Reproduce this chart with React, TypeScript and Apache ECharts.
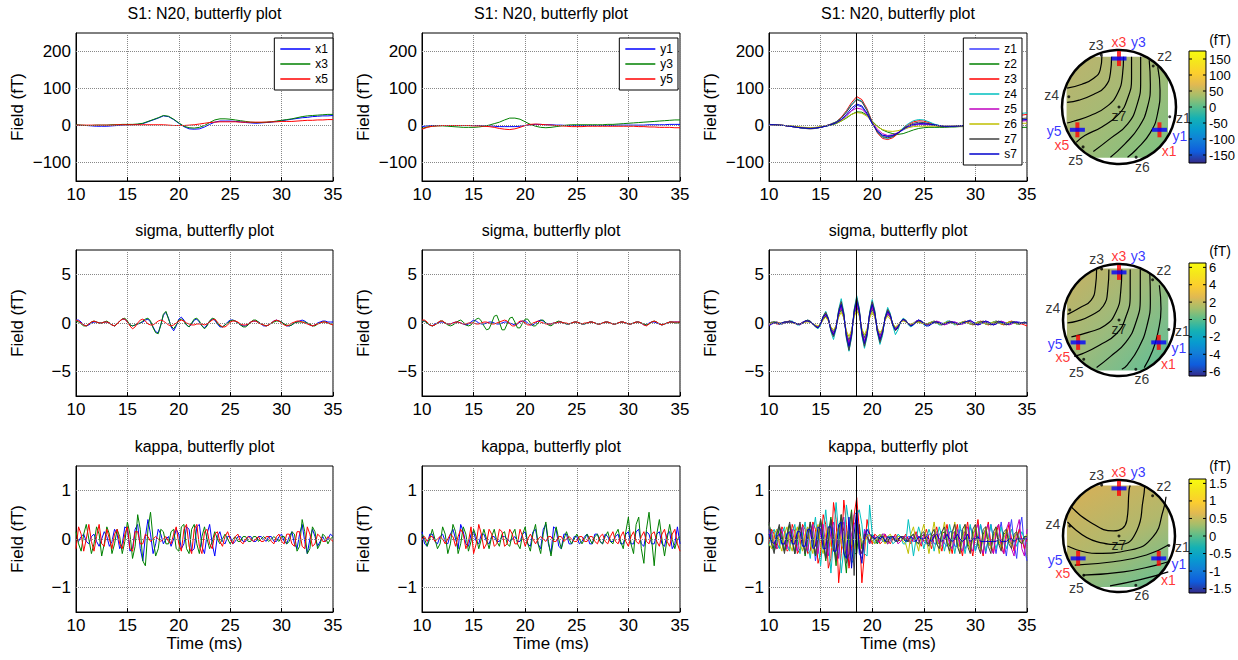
import React, { useEffect, useRef } from "react";
import * as echarts from "echarts";

const FONT = '"Liberation Sans", Arial, Helvetica, sans-serif';
const T0 = 10;
const STEP_TOP = 0.5;
const STEP_OSC = 0.25;
const MARK_T = 18.5;
const MAP_RANGE = 1.3;

const namesX = ["x1", "x3", "x5"];
const namesY = ["y1", "y3", "y5"];
const namesZ = ["z1", "z2", "z3", "z4", "z5", "z6", "z7", "s7"];
const colXY = ["#0000ff", "#008000", "#ff0000"];
const colZ = ["#3a3aff", "#008000", "#ff0000", "#00bfbf", "#bf00bf", "#bfbf00", "#404040", "#0000cc"];

const rowTitles = ["S1: N20, butterfly plot", "sigma, butterfly plot", "kappa, butterfly plot"];
const yTickTop = [-100, 0, 100, 200];
const yTickSigma = [-5, 0, 5];
const yTickKappa = [-1, 0, 1];

// ---------- Row 1 (step 0.5 ms) ----------
const topX1 = [1,0,0,-1,-2,-2,-2,-1,0,1, 2,2,3,5,10,15,20,26,24,16, 6,-3,-9,-10,-9,-4,3,9,12,12, 12,11,10,8,7,6,7,8,9,11, 13,15,17,19,21,22,24,25,26,26, 27];
const topX3 = [2,1,0,0,1,1,1,2,2,3, 3,3,4,6,11,16,21,27,25,17, 7,-2,-6,-7,-5,0,8,15,18,18, 17,15,13,11,9,8,8,9,10,12, 14,16,18,21,24,26,27,28,29,30, 30];
const topX5 = [1,1,1,1,1,1,1,1,2,2, 2,2,2,2,2,2,2,2,1,0, 0,0,1,2,4,6,8,9,10,10, 10,10,9,9,9,9,9,9,10,10, 11,11,11,12,13,14,14,15,15,16, 16];
const topY1 = [-3,-1,0,0,0,0,0,0,0,0, 0,0,-1,-1,-2,-3,-3,-3,-3,-2, 0,2,3,3,2,2,1,1,0,0, 0,0,0,0,0,0,0,0,1,1, 1,1,1,1,2,2,2,2,3,3, 3];
const topY3 = [-8,-4,-2,-1,-1,-2,-3,-4,-5,-5, -5,-4,-2,1,5,9,15,20,20,17, 10,3,-2,-5,-6,-5,-3,-1,1,2, 2,2,2,2,2,2,3,3,4,5, 6,7,8,9,10,11,12,13,14,15, 15];
const topY5 = [-10,-5,-2,-1,0,0,0,0,0,0, -1,-1,-2,-3,-5,-8,-10,-11,-9,-5, 0,3,4,3,2,1,0,-1,-2,-3, -3,-3,-2,-2,-2,-2,-2,-2,-2,-2, -2,-2,-3,-3,-4,-4,-5,-5,-5,-6, -6];
const topZ1 = [2,2,1,0,-2,-4,-6,-7,-8,-7, -5,-2,2,7,15,25,40,55,50,30, 5,-15,-27,-30,-28,-20,-12,-5,0,3, 3,2,0,-2,-3,-3,-3,-2,-1,0, 1,2,4,6,8,10,12,13,14,15, 16];
const topZ2 = [3,2,1,0,-1,-3,-5,-6,-7,-6, -4,-2,1,5,12,20,30,37,36,28, 12,-2,-12,-18,-22,-24,-22,-17,-12,-8, -6,-5,-5,-5,-5,-4,-4,-3,-3,-3, -3,-3,-3,-3,-3,-4,-4,-5,-5,-5, -5];
const topZ3 = [3,2,1,0,-2,-4,-6,-8,-9,-8, -5,-1,4,10,22,40,62,78,70,45, 10,-20,-35,-38,-33,-22,-8,3,10,13, 12,8,3,-1,-3,-3,-2,-1,0,2, 4,6,9,12,15,18,21,24,26,28, 30];
const topZ4 = [3,2,1,0,-2,-4,-6,-8,-9,-8, -5,-1,4,10,20,37,58,72,66,42, 8,-18,-32,-35,-30,-20,-6,5,13,16, 15,10,4,0,-3,-3,-2,-1,0,2, 4,7,10,14,18,22,25,28,31,33, 34];
const topZ5 = [2,2,1,0,-2,-3,-5,-6,-7,-6, -4,-1,3,8,15,28,40,47,44,30, 8,-10,-22,-27,-25,-19,-10,-3,2,4, 4,3,1,-1,-2,-2,-2,-1,0,1, 2,3,5,6,8,9,10,11,12,12, 13];
const topZ6 = [2,2,1,0,-1,-2,-4,-5,-6,-5, -3,-1,2,6,12,22,30,35,33,25, 10,-3,-11,-15,-16,-14,-10,-6,-3,-2, -2,-2,-2,-2,-2,-2,-2,-1,-1,0, 0,1,2,2,3,4,4,5,5,6, 6];
const topZ7 = [3,2,1,0,-2,-4,-6,-7,-8,-7, -5,-1,3,9,20,36,55,70,64,40, 8,-18,-30,-33,-30,-21,-9,0,6,9, 8,5,1,-2,-3,-3,-2,-1,0,1, 3,5,7,9,11,13,15,17,18,19, 20];
const topS7 = [2,2,1,0,-2,-4,-6,-7,-8,-7, -5,-2,2,7,16,30,47,58,53,33, 5,-15,-26,-29,-27,-20,-10,-2,3,5, 5,4,2,0,-2,-2,-2,-1,0,1, 2,4,5,7,9,10,12,13,14,15, 16];

// ---------- Row 2: sigma (step 0.25 ms) ----------
const sigX1 = [
  0.3,0.3,0.1,-0.2, -0.3,-0.2,0,0.1, 0.1,0,0,0.1, 0.1,0,-0.2,-0.3, -0.1,0.2,0.4,0.4,
  0.1,-0.2,-0.3,-0.2, -0.1,0,0.1,0.3, 0.4,0.1,-0.4,-0.9, -1,-0.2,0.8,1.1, 0.5,-0.4,-0.8,-0.3,
  0.4,0.6,0.3,-0.2, -0.4,-0.1,0.3,0.4, 0.1,-0.3,-0.5,-0.2, 0.2,0.4,0.3,-0.1, -0.4,-0.4,-0.2,0.1,
  0.3,0.3,0.2,0, -0.2,-0.3,-0.3,-0.1, 0.1,0.2,0.2,0.1, -0.1,-0.3,-0.3,-0.2, 0,0.2,0.3,0.2,
  0.1,-0.1,-0.3,-0.3, -0.2,0,0.1,0.2, 0.3,0.2,0,-0.2, -0.3,-0.2,0,0.1, 0.2,0.2,0.1,0.1, 0.1];
const sigX3 = [
  0.2,0.1,-0.1,-0.3, -0.3,-0.1,0.1,0.2, 0.1,0,0,0.1, 0.2,0,-0.2,-0.3, -0.1,0.2,0.4,0.5,
  0.2,-0.2,-0.3,-0.2, -0.1,0,0.2,0.4, 0.5,0.2,-0.5,-1, -1.1,-0.2,0.9,1.2, 0.4,-0.3,-0.6,-0.2,
  0.3,0.4,0.2,-0.2, -0.4,0,0.4,0.5, 0.2,-0.3,-0.6,-0.3, 0.2,0.5,0.4,0, -0.3,-0.4,-0.2,0,
  0.2,0.3,0.2,0, -0.2,-0.4,-0.4,-0.2, 0.1,0.3,0.3,0.1, -0.1,-0.2,-0.3,-0.2, 0,0.1,0.2,0.2,
  0.1,-0.1,-0.2,-0.3, -0.2,0,0.1,0.1, 0.1,0.1,0,-0.1, -0.3,-0.3,-0.1,0, 0.1,0.1,0,-0.1, -0.1];
const sigX5 = [
  0.3,0.2,0,-0.2, -0.3,-0.1,0.1,0.2, 0.1,0,0,0.1, 0.1,0,-0.2,-0.3, -0.1,0.2,0.4,0.4,
  0.1,-0.3,-0.6,-0.4, 0,0.3,0.4,0.2, -0.1,-0.2,-0.2,0, 0.2,0.3,0.2,0, -0.2,-0.3,-0.2,0,
  0.2,0.3,0.2,0, -0.1,-0.2,-0.2,-0.1, -0.1,-0.1,-0.2,-0.1, 0.1,0.3,0.4,0.1, -0.2,-0.4,-0.4,-0.2,
  0.1,0.2,0.2,0.1, -0.1,-0.2,-0.2,-0.1, 0.1,0.2,0.2,0, -0.1,-0.2,-0.3,-0.2, 0,0.2,0.3,0.2,
  0,-0.2,-0.3,-0.2, 0,0.1,0.2,0.2, 0.1,0,-0.1,-0.2, -0.3,-0.2,-0.1,0, 0.1,0.1,0,-0.1, -0.2];
const sigY1 = [
  0.2,0.2,0,-0.2, -0.3,-0.1,0,0.1, 0.1,0,-0.1,-0.1, 0,0.1,0.1,0, -0.1,-0.2,-0.1,0.1,
  0.3,0.2,0,-0.1, -0.1,0,0.1,0.1, 0,-0.1,-0.1,0, 0.1,0.1,0,-0.1, -0.2,-0.1,0.1,0.2,
  0.2,0,-0.2,-0.2, 0,0.2,0.3,0.2, 0,-0.1,-0.1,0, 0,0.1,0.1,0, -0.1,-0.1,0,0.1,
  0.1,0,-0.1,-0.1, 0,0.1,0.1,0, -0.1,-0.1,0,0.1, 0.1,0,-0.1,-0.1, 0,0.1,0.1,0,
  -0.1,-0.1,0,0.1, 0.1,0,-0.2,-0.2, 0,0.1,0.1,0, -0.1,-0.2,-0.1,0, 0.1,0.1,0.1,0.1, 0.1];
const sigY3 = [
  0.2,0.2,0,-0.2, -0.3,-0.2,0,0.2, 0.2,0,-0.2,-0.3, -0.2,0,0.2,0.3, 0.1,-0.2,-0.3,-0.2,
  0.1,0.4,0.5,0.2, -0.3,-0.7,-0.6,0, 0.7,0.8,0.1,-0.7, -0.7,-0.1,0.5,0.6, 0.1,-0.5,-0.5,0,
  0.4,0.4,0,-0.3, -0.3,0,0.3,0.3, 0,-0.2,-0.3,-0.1, 0.1,0.2,0.1,0, -0.1,-0.1,0,0.1,
  0.1,0,-0.1,-0.1, 0,0.1,0.1,0, -0.1,-0.1,0,0.1, 0.1,0,-0.1,-0.1, 0,0.1,0.1,0,
  -0.1,-0.1,0,0.1, 0.1,0,-0.1,-0.2, -0.1,0.1,0.2,0.1, -0.1,-0.2,-0.1,0, 0.1,0.1,0,0, 0.1];
const sigY5 = [
  0.3,0.3,0.1,-0.2, -0.3,-0.2,0,0.2, 0.2,0,-0.1,-0.1, 0,0.1,0.1,0, -0.1,-0.1,0,0,
  0,-0.1,-0.1,0, 0.1,0.1,0,-0.1, -0.1,0,0.1,0.2, 0.3,0.2,-0.1,-0.3, -0.3,0,0.2,0.2,
  0,-0.2,-0.2,0, 0.1,0.2,0.1,0, -0.1,-0.1,-0.1,0, 0,0.1,0.1,0, 0,-0.1,0,0.1,
  0.1,0,-0.1,0, 0,0.1,0.1,0, -0.1,-0.1,0,0.1, 0.1,0,-0.1,-0.1, 0,0.1,0.1,0,
  -0.1,-0.1,0,0.1, 0.1,0,-0.2,-0.3, -0.1,0.1,0.2,0.1, -0.1,-0.2,-0.1,0, 0.1,0.1,0.1,0.1, 0.1];
const sigZ1 = [
  -0.2,0,0.1,0, 0,0,0.1,0.1, 0.2,0.1,0,-0.1, -0.1,0.1,0.2,0.2, 0.1,-0.1,-0.3,-0.4,
  -0.1,0.6,0.9,0.4, -0.6,-1.1,-0.4,1, 1.8,0.8,-1.2,-2.2, -1.1,1,2.1,1.1, -0.9,-1.9,-1,0.8,
  1.8,0.9,-0.8,-1.6, -0.9,0.5,1.1,0.7, -0.2,-0.6,-0.4,0.1, 0.3,0.2,-0.1,-0.2, 0,0.2,0.3,0.2,
  0,-0.1,-0.2,-0.1, 0,0.1,0.1,0, -0.1,-0.1,0,0.1, 0.1,0,-0.1,-0.1, 0,0.1,0.2,0.1,
  0,-0.1,-0.1,0, 0.1,0.1,0,-0.1, -0.1,0,0.1,0.1, 0,-0.1,-0.1,0, 0.1,0.1,0,0, 0];
const sigZ2 = [
  -0.1,0,0.1,0.1, 0,-0.1,0,0.1, 0.1,0.1,0,-0.1, -0.1,0,0.1,0.2, 0.1,-0.1,-0.3,-0.4,
  -0.1,0.4,0.7,0.3, -0.5,-0.9,-0.3,0.8, 1.4,0.6,-1,-1.8, -0.9,0.8,1.7,0.9, -0.7,-1.5,-0.8,0.7,
  1.4,0.7,-0.6,-1.3, -0.7,0.4,0.9,0.6, -0.1,-0.5,-0.3,0.1, 0.3,0.2,-0.1,-0.2, -0.1,0.1,0.1,0,
  -0.1,-0.1,0,0.1, 0.1,0,-0.1,-0.1, 0,0.1,0.1,0, -0.1,-0.1,0,0.1, 0.1,0,-0.1,-0.1,
  0,0.1,0.1,0, -0.1,-0.1,0,0.1, 0.1,0,-0.1,-0.1, 0,0.1,0.1,0, -0.1,-0.1,0,0, 0];
const sigZ3 = [
  -0.3,0.05,0,-0.1, -0.1,-0.05,0.05,0.15, 0.2,0.1,-0.05,-0.15, -0.1,0.05,0.2,0.25, 0.15,-0.1,-0.35,-0.5,
  -0.13,0.63,1,0.43, -0.73,-1.3,-0.48,1.18, 2,0.88,-1.38,-2.5, -1.28,1.18,2.4,1.25, -1.05,-2.2,-1.15,0.95,
  2,1.05,-0.85,-1.8, -1.03,0.53,1.3,0.8, -0.2,-0.7,-0.43,0.13, 0.4,0.23,-0.13,-0.3, -0.15,0.1,0.2,0.1,
  -0.1,-0.2,-0.1,0.1, 0.2,0.1,-0.1,-0.2, -0.1,0.1,0.2,0.1, -0.1,-0.2,-0.1,0.1, 0.2,0.1,-0.1,-0.2,
  -0.1,0.1,0.2,0.1, -0.1,-0.2,-0.1,0.1, 0.2,0.1,-0.1,-0.2, -0.1,0.1,0.2,0.1, 0,-0.1,-0.1,-0.2, -0.3];
const sigZ4 = [
  -0.2,0,0.1,0, -0.1,-0.1,0,0.1, 0.2,0.2,0,-0.2, -0.2,0,0.2,0.3, 0.2,-0.1,-0.4,-0.6,
  -0.2,0.7,1.2,0.5, -0.9,-1.7,-0.6,1.4, 2.5,1.1,-1.6,-2.9, -1.5,1.4,2.8,1.5, -1.3,-2.6,-1.4,1.1,
  2.4,1.3,-1,-2.2, -1.3,0.6,1.6,1, -0.3,-1.2,-0.7,0.1, 0.5,0.3,-0.2,-0.4, -0.2,0.2,0.3,0.1,
  -0.2,-0.3,-0.1,0.1, 0.2,0,-0.2,-0.2, 0,0.2,0.2,0, -0.2,-0.1,0,0.1, 0.1,0,-0.1,-0.1,
  0,0.1,0.1,0, -0.1,-0.1,0,0.1, 0.2,0.1,0,-0.1, -0.1,0,0.1,0.1, 0,-0.1,0,0.1, 0];
const sigZ5 = [
  -0.2,-0.1,0,0.1, 0,-0.1,0,0.1, 0.1,0.1,0,-0.1, -0.2,0,0.1,0.2, 0.1,-0.1,-0.3,-0.4,
  -0.1,0.5,0.8,0.3, -0.6,-1,-0.4,0.9, 1.6,0.7,-1.1,-2, -1,0.9,1.9,1, -0.8,-1.8,-0.9,0.8,
  1.6,0.8,-0.7,-1.4, -0.8,0.4,1,0.6, -0.2,-0.6,-0.3,0.1, 0.3,0.2,-0.1,-0.2, -0.1,0.2,0.3,0.1,
  -0.1,-0.2,-0.1,0, 0.1,0.2,0.1,-0.1, -0.2,-0.1,0,0.1, 0.1,0,-0.1,-0.1, 0,0.1,0.2,0.1,
  -0.1,-0.2,-0.1,0.1, 0.2,0.1,-0.1,-0.2, -0.1,0.1,0.2,0.1, -0.1,-0.2,-0.1,0.1, 0.1,0,0,0, -0.1];
const sigZ6 = [
  -0.1,0,0.1,0, 0,0,0.1,0.1, 0.1,0,0,-0.1, -0.1,0,0.1,0.1, 0.1,-0.1,-0.2,-0.3,
  -0.1,0.3,0.6,0.2, -0.4,-0.7,-0.3,0.6, 1.1,0.5,-0.8,-1.4, -0.7,0.6,1.3,0.7, -0.6,-1.2,-0.6,0.5,
  1.1,0.6,-0.5,-1, -0.6,0.3,0.7,0.4, -0.1,-0.4,-0.2,0.1, 0.2,0.1,-0.1,-0.1, 0,0.1,0.1,0,
  -0.1,-0.1,0,0.1, 0.1,0,-0.1,-0.1, 0,0.1,0.1,0, -0.1,-0.1,0,0.1, 0.1,0,-0.1,-0.1,
  0,0.1,0.1,0, -0.1,-0.1,0,0.1, 0.1,0,-0.1,-0.1, 0,0.1,0.1,0, -0.1,0,0,0, 0];
const sigZ7 = [
  -0.1,0.1,0.1,0, -0.1,0,0.1,0.1, 0.2,0.1,0,-0.1, -0.1,0,0.2,0.3, 0.2,-0.1,-0.4,-0.5,
  -0.1,0.7,1.1,0.5, -0.8,-1.4,-0.5,1.3, 2.2,1,-1.5,-2.8, -1.4,1.3,2.6,1.4, -1.2,-2.4,-1.3,1,
  2.2,1.2,-0.9,-2, -1.1,0.6,1.4,0.9, -0.2,-0.8,-0.5,0.1, 0.4,0.3,-0.1,-0.3, -0.1,0.1,0.2,0.2,
  0,-0.1,-0.1,0, 0.1,0.1,0,-0.1, -0.1,0,0.1,0.1, 0,-0.1,-0.1,0, 0.1,0.2,0.1,-0.1,
  -0.2,-0.1,0.1,0.2, 0.1,-0.1,-0.2,-0.1, 0.1,0.2,0.1,-0.1, -0.2,-0.1,0.1,0.1, 0,-0.1,0,0.1, 0];
const sigS7 = [
  -0.3,-0.1,0,0, -0.1,0,0.1,0.1, 0.1,0.1,0,-0.1, -0.1,0,0.2,0.2, 0.1,-0.1,-0.3,-0.5,
  -0.1,0.6,0.9,0.4, -0.7,-1.2,-0.5,1.1, 1.9,0.8,-1.3,-2.4, -1.2,1.1,2.3,1.2, -1,-2.1,-1.1,0.9,
  1.9,1,-0.8,-1.7, -1,0.5,1.2,0.8, -0.2,-0.7,-0.4,0.1, 0.4,0.2,-0.1,-0.3, -0.2,0.1,0.3,0.2,
  -0.1,-0.3,-0.3,-0.1, 0.1,0.1,0,-0.1, -0.1,0,0.1,0.1, 0,-0.1,-0.1,0, 0.1,0.2,0.3,0.1,
  -0.1,-0.2,-0.1,0.1, 0.2,0.1,-0.1,-0.2, -0.1,0.1,0.1,0, -0.1,-0.1,0,0.1, 0.1,0,0,0, 0];

// ---------- Row 3: kappa (step 0.25 ms) ----------
const kapX1 = [
  0,-0.05,0.05,0.1, -0.05,-0.1,0.05,0.1, -0.05,-0.15,0,0.15, 0.05,-0.15,-0.05,0.2, 0.1,-0.2,-0.1,0.25,
  0.2,-0.25,-0.2,0.2, 0.3,-0.2,-0.45,0.05, 0.4,0.1,-0.3,-0.1, 0.2,0.1,-0.1,0, 0.05,-0.15,0,0.2,
  0.1,-0.2,-0.1,0.25, 0.2,-0.25,-0.2,0.25, 0.3,-0.15,-0.3,0.1, 0.3,-0.1,-0.35,0.05, 0.15,-0.05,-0.1,0.05,
  0.05,-0.1,-0.05,0.05, 0.05,-0.05,-0.05,0.05, 0.05,-0.05,-0.05,0.05, 0.05,0,-0.05,0.05, 0.05,-0.05,-0.05,0.05,
  0.1,-0.05,-0.1,0.05, 0.15,-0.1,-0.2,0.1, 0.3,-0.05,-0.3,0, 0.2,0.05,-0.15,-0.05, 0.05,-0.05,0,0.1, 0.05];
const kapX3 = [
  0.15,-0.1,-0.25,0.1, 0.3,0,-0.3,-0.1, 0.25,0.1,-0.35,-0.1, 0.25,0.1,-0.3,-0.1, 0.2,0.05,-0.3,-0.05,
  0.35,0.1,-0.4,-0.15, 0.5,0.2,-0.45,-0.55, 0.2,0.55,0,-0.35, -0.2,0.2,0.15,-0.1, -0.1,0.15,0.2,-0.2,
  -0.25,0.25,0.3,-0.2, -0.3,0.2,0.3,-0.1, -0.3,0.05,0.25,0, -0.2,-0.05,0.15,0, -0.1,0,0.1,0,
  -0.1,0,0.05,-0.05, -0.05,0.05,0.05,-0.05, -0.05,0.05,0.05,-0.05, 0,0.05,0,-0.05, 0,0.05,0,-0.05,
  0.05,0.05,-0.1,-0.05, 0.15,0.1,-0.25,-0.15, 0.4,0.15,-0.3,-0.2, 0.25,0.15,-0.2,-0.1, 0.1,0.05,-0.1,0, 0.05];
const kapX5 = [
  -0.2,0.25,0.1,-0.25, 0,0.3,-0.05,-0.25, 0.05,0.3,-0.1,-0.15, 0.2,0,-0.2,0.1, 0.2,-0.1,-0.2,0.1,
  0.25,-0.2,-0.25,0.15, 0.15,-0.1,-0.1,0.1, 0.05,-0.05,0,0.05, 0,-0.05,0,0.05, -0.05,-0.1,0.1,0.25,
  -0.1,-0.25,0.2,0.3, -0.15,-0.3,0.2,0.3, -0.15,-0.3,0.15,0.2, -0.1,-0.2,0.1,0.15, -0.05,-0.15,0.05,0.15,
  0,-0.1,0.05,0.1, -0.05,-0.1,0,0.05, 0,-0.05,0,0.05, -0.05,-0.05,0.05,0.05, -0.05,-0.1,0.05,0.1,
  -0.05,-0.1,0.1,0.1, -0.1,-0.15,0.15,0.15, -0.15,-0.2,0.25,0.1, -0.15,-0.1,0.1,0.05, -0.05,-0.05,0.05,0, -0.05];
const kapY1 = [
  0.15,-0.1,-0.15,0.1, 0.1,-0.05,-0.1,0.05, 0.1,-0.05,-0.1,0.1, 0.2,0,-0.2,0.3, 0.15,-0.1,-0.15,0.1,
  0.15,-0.05,-0.1,0.1, 0.1,-0.05,-0.1,0.05, 0.05,-0.05,-0.05,0.05, 0.05,0,-0.05,0, 0.05,-0.05,-0.05,0.1,
  0.15,-0.1,-0.15,0.15, 0.2,-0.1,-0.2,0.2, 0.3,-0.1,-0.3,0.25, 0.2,-0.15,-0.2,0.1, 0.1,-0.1,-0.1,0.05,
  0.05,-0.1,-0.05,0.05, 0.1,-0.1,-0.1,0.1, 0.1,-0.05,-0.1,0.1, 0.05,-0.05,-0.05,0.05, 0.1,-0.1,-0.1,0.1,
  0.15,-0.1,-0.1,0.15, 0.2,-0.1,-0.15,0.15, 0.1,-0.1,-0.1,0.1, 0.15,-0.1,-0.15,0.1, 0.15,-0.2,-0.1,0.25, -0.1];
const kapY3 = [
  0.1,0,-0.15,0, 0.2,0,-0.2,-0.1, 0.25,0.1,-0.3,-0.1, 0.3,0.15,-0.3,-0.1, 0.25,0.1,-0.25,-0.05,
  0.2,0.05,-0.2,0, 0.2,0,-0.2,0.05, 0.2,-0.05,-0.15,0.1, 0.15,-0.1,-0.15,0.1, 0.2,-0.1,-0.2,0.1,
  0.25,-0.1,-0.25,0.1, 0.3,-0.1,-0.3,0.1, 0.35,-0.05,-0.35,0, 0.25,0,-0.2,0, 0.15,0,-0.1,0,
  0.1,0,-0.1,0, 0.1,0,-0.1,0.05, 0.1,-0.05,-0.1,0.05, 0.15,-0.05,-0.1,0.1, 0.2,-0.05,-0.2,0.15,
  0.45,-0.1,-0.3,0.3, 0.45,-0.2,-0.5,0.2, 0.55,0,-0.55,0.1, 0.4,0,-0.35,0, 0.3,0,-0.2,0, 0.05];
const kapY5 = [
  0,0.05,-0.05,0.05, 0.05,-0.05,0,0.05, 0,-0.1,0,0.1, 0.05,-0.15,0.05,0.2, 0.1,-0.2,-0.05,0.25,
  -0.3,-0.1,0.3,0.1, -0.2,-0.1,0.2,0.1, -0.15,-0.1,0.2,0.15, -0.15,-0.1,0.2,0.1, -0.1,-0.1,0.2,0.05,
  -0.15,0,0.1,0, -0.1,0,0.05,0, -0.05,0.05,0.05,-0.05, -0.05,0.05,0.05,-0.05, 0,0.05,0,-0.05,
  -0.05,0.05,0.05,-0.05, -0.05,0.05,0.05,-0.05, -0.1,0.05,0.1,-0.05, -0.1,0.05,0.15,-0.05, -0.1,0.05,0.15,-0.05,
  -0.15,0.05,0.15,-0.05, -0.1,0.05,0.15,-0.05, -0.1,0.1,0.15,-0.05, -0.15,0.1,0.2,-0.05, -0.15,0.1,0.2,-0.1, -0.25];
const kapZ1 = [
  0.2,-0.1,-0.2,0.15, 0.25,-0.1,-0.25,0.1, 0.3,0,-0.3,0, 0.3,0.05,-0.3,-0.1, 0.3,0.1,-0.45,-0.1,
  0.35,0.1,-0.4,-0.2, 0.4,0.2,-0.45,-0.3, 0.3,0.45,-0.2,-0.55, -0.2,0.5,0.55,-0.3, -0.4,0.2,0.1,-0.1,
  0.1,0.05,-0.1,0, 0.05,-0.05,-0.05,0.05, 0.05,-0.05,0,0.05, 0,-0.05,0.05,0.05, -0.05,-0.05,0.05,0.05,
  -0.05,-0.1,0.1,0.1, -0.1,-0.1,0.1,0.15, -0.1,-0.15,0.15,0.15, -0.15,-0.15,0.2,0.15, -0.2,-0.1,0.25,0.1,
  -0.25,-0.05,0.3,0.05, -0.3,0,0.3,0, -0.3,0.05,0.35,-0.05, -0.35,0.1,0.4,-0.1, -0.4,0.2,0.45,-0.2, -0.45];
const kapZ2 = [
  0.3,0.1,-0.25,-0.1, 0.25,0.1,-0.25,-0.1, 0.3,0.05,-0.3,-0.05, 0.3,0.05,-0.35,0, 0.35,0,-0.35,0.05,
  0.4,-0.05,-0.45,0.1, 0.45,-0.1,-0.55,0.15, 0.5,-0.2,-0.7,0.2, 0.6,-0.3,-0.3,0.3, -0.2,0.1,0.1,-0.1,
  0.1,0,-0.1,0.05, 0.1,-0.05,-0.1,0.05, 0.05,-0.05,-0.05,0.05, 0.05,-0.05,-0.05,0.05, 0.1,-0.05,-0.1,0.05,
  0.1,-0.05,-0.1,0.05, 0.1,-0.05,-0.1,0.1, 0.15,-0.05,-0.15,0.1, 0.15,-0.1,-0.15,0.1, 0.15,-0.1,-0.2,0.1,
  0.2,-0.1,-0.2,0.1, 0.2,-0.1,-0.15,0.1, 0.15,-0.1,-0.15,0.1, 0.15,-0.05,-0.1,0.05, 0.1,-0.05,-0.1,0.05, 0.05];
const kapZ3 = [
  -0.1,0.2,0.1,-0.2, -0.15,0.25,0.15,-0.25, -0.2,0.3,0.15,-0.3, -0.2,0.3,0.2,-0.3, -0.25,0.35,0.2,-0.5,
  -0.3,0.5,0.3,-0.6, -0.4,0.75,0.4,-0.9, -0.3,0.8,0.3,-0.6, -0.2,0.5,0.85,0.2, -0.9,-0.3,0.4,0.1,
  -0.1,0.1,0.05,-0.1, -0.05,0.1,0,-0.1, 0,0.1,0,-0.05, 0,0.1,0,-0.1, 0,0.15,0,-0.15,
  0,0.2,0,-0.2, 0.05,0.25,-0.05,-0.25, 0.05,0.3,-0.05,-0.3, 0.05,0.3,-0.1,-0.35, 0.1,0.35,-0.1,-0.35,
  0.1,0.4,-0.1,-0.35, 0.1,0.35,-0.1,-0.3, 0.1,0.3,-0.05,-0.3, 0.05,0.3,0,-0.25, 0,0.2,0,-0.2, 0];
const kapZ4 = [
  -0.15,0.1,0.2,-0.05, -0.2,0.1,0.25,-0.1, -0.25,0.1,0.3,-0.1, -0.3,0.1,0.35,-0.1, -0.4,0.1,0.45,-0.1,
  -0.55,0.1,0.6,0, -0.7,0,0.75,0.1, -0.7,-0.2,0.7,0.3, -0.5,-0.4,0.5,0.6, 0.3,-0.3,-0.35,0.7,
  0.1,-0.1,0,0.1, -0.05,-0.05,0.05,0.05, -0.1,-0.05,0.1,0.05, -0.1,-0.1,0.4,0.05, -0.35,0,0.25,0.05,
  -0.2,0,0.2,0.05, -0.25,0,0.25,0.05, -0.25,0,0.3,0.05, -0.3,0,0.3,0, -0.3,0,0.3,0,
  -0.25,0,0.3,0, -0.25,0,0.3,0, -0.2,0,0.25,0, -0.2,0,0.2,0, -0.15,0,0.15,0, -0.1];
const kapZ5 = [
  0.1,0.15,-0.1,-0.2, 0.1,0.2,-0.1,-0.2, 0.1,0.2,-0.1,-0.25, 0.1,0.25,-0.1,-0.25, 0.1,0.3,-0.1,-0.3,
  0.15,0.3,-0.15,-0.35, 0.15,0.35,-0.1,-0.4, 0.2,0.35,-0.2,-0.4, 0.1,0.3,0.4,-0.2, -0.3,0.15,0.1,-0.1,
  0.05,0.05,-0.05,-0.05, 0.1,0.1,-0.1,-0.05, 0.05,0.05,-0.1,-0.05, 0.05,0.05,-0.05,-0.05, 0.05,0.1,-0.05,-0.1,
  0.1,0.1,-0.1,-0.1, 0.1,0.15,-0.1,-0.15, 0.1,0.2,-0.1,-0.2, 0.15,0.2,-0.15,-0.25, 0.15,0.25,-0.15,-0.25,
  0.15,0.3,-0.15,-0.3, 0.2,0.3,-0.2,-0.3, 0.2,0.3,-0.2,-0.3, 0.2,0.35,-0.2,-0.35, 0.2,0.4,-0.2,-0.35, 0.2];
const kapZ6 = [
  -0.1,-0.2,0.1,0.2, -0.1,-0.25,0.1,0.25, -0.1,-0.25,0.1,0.25, -0.1,-0.25,0.1,0.25, -0.1,-0.3,0.1,0.3,
  -0.15,-0.3,0.1,0.25, -0.15,-0.25,0.1,0.25, -0.1,-0.25,0.1,0.2, -0.1,-0.2,0.1,0.1, -0.05,-0.1,0.05,0.1,
  -0.05,-0.1,0.05,0.1, 0,-0.1,0.05,0.1, 0,-0.05,0.05,0.05, -0.05,-0.1,-0.3,0.1, 0.25,-0.05,-0.25,0.1,
  0.3,0,-0.3,0.05, 0.35,0,-0.3,0.05, 0.35,0,-0.3,0.05, 0.35,0,-0.3,0, 0.3,0,-0.25,0,
  0.3,0,-0.25,0, 0.25,0,-0.2,0, 0.25,0,-0.2,0, 0.2,0,-0.15,0, 0.15,0,-0.1,0, 0.1];
const kapZ7 = [
  0.35,-0.1,-0.3,0.1, 0.3,-0.05,-0.3,0.1, 0.35,-0.05,-0.3,0.1, 0.35,-0.05,-0.3,0.05, 0.35,0,-0.3,0,
  0.4,0,-0.4,-0.05, 0.4,0.05,-0.45,-0.1, 0.5,0.15,-0.5,-0.3, 0.55,-0.75,0.6,-0.2, -0.3,0.1,0.05,-0.05,
  0.05,0,-0.05,0.05, 0.05,-0.05,-0.05,0.05, 0.05,0,-0.05,0.05, 0.05,0,-0.05,0.05, 0.1,-0.05,-0.1,0.1,
  0.15,-0.05,-0.15,0.1, 0.2,-0.1,-0.2,0.15, 0.25,-0.1,-0.25,0.15, 0.3,-0.15,-0.3,0.2, 0.3,-0.15,-0.3,0.2,
  0.3,-0.15,-0.3,0.2, 0.25,-0.15,-0.3,0.15, 0.25,-0.1,-0.25,0.15, 0.2,-0.1,-0.2,0.1, 0.15,-0.05,-0.1,0.05, 0.05];
const kapS7 = [
  0.1,-0.05,-0.1,0.05, 0.1,-0.1,-0.1,0.1, 0.15,-0.1,-0.1,0.15, 0.15,-0.15,-0.15,0.2, 0.2,-0.2,-0.15,0.25,
  0.2,-0.2,-0.2,0.25, 0.25,-0.25,-0.25,0.3, 0.35,-0.3,-0.4,0.45, -0.6,0.1,0.6,-0.2, -0.5,0,0.2,0.1,
  0.05,0,0.05,0, 0.05,-0.05,0.05,0, 0.05,-0.05,0,0.05, 0,-0.05,0,0.05, 0,-0.05,0.05,0,
  0,0.05,0,-0.05, 0.05,0.1,0,-0.05, 0,0.1,0,-0.05, 0,0.1,0,-0.05, 0,0.1,-0.05,0,
  0,0.05,-0.05,-0.05, -0.05,-0.05,-0.05,-0.05, -0.05,0,-0.05,-0.05, -0.05,0,0,-0.05, 0,0,0,0, 0];

// ---------- Topographic maps ----------
const sensorNames = ["z1", "z2", "z3", "z4", "z5", "z6", "z7"];
const sensorX = [0.89, 0.6, -0.31, -0.88, -0.63, 0.3, 0.0];
const sensorY = [-0.17, 0.72, 0.91, 0.18, -0.7, -0.88, 0.0];
const sensorLabelX = [1.13, 0.8, -0.4, -1.18, -0.76, 0.41, 0.0];
const sensorLabelY = [-0.2, 0.9, 1.09, 0.21, -0.93, -1.06, -0.16];
const crossX = [0.71, 0.0, -0.73];
const crossY = [-0.4, 0.85, -0.4];
const xLabelX = [0.88, 0.0, -1.0];
const xLabelY = [-0.78, 1.14, -0.66];
const yLabelX = [1.07, 0.34, -1.14];
const yLabelY = [-0.5, 1.14, -0.42];

const contours1 = [
  [[-0.30,0.89],[-0.33,0.65],[-0.45,0.50],[-0.65,0.40],[-0.91,0.33]],
  [[-0.13,0.88],[-0.15,0.6],[-0.25,0.35],[-0.45,0.22],[-0.7,0.12],[-0.91,0.08]],
  [[0.08,0.88],[0.06,0.55],[-0.02,0.25],[-0.2,0.02],[-0.5,-0.15],[-0.8,-0.25],[-0.91,-0.28]],
  [[0.22,0.88],[0.22,0.5],[0.15,0.15],[0.0,-0.12],[-0.3,-0.35],[-0.6,-0.5],[-0.75,-0.62]],
  [[0.38,0.88],[0.38,0.45],[0.32,0.05],[0.15,-0.3],[-0.15,-0.55],[-0.45,-0.78]],
  [[0.53,0.82],[0.55,0.4],[0.5,0.0],[0.35,-0.35],[0.1,-0.65],[-0.15,-0.88]],
  [[0.68,0.7],[0.72,0.3],[0.68,-0.1],[0.55,-0.45],[0.3,-0.75],[0.15,-0.88]]
];
const contours2 = [
  [[-0.4,0.9],[-0.42,0.6],[-0.5,0.35],[-0.7,0.22],[-0.92,0.1]],
  [[-0.18,0.9],[-0.2,0.55],[-0.28,0.25],[-0.5,0.08],[-0.75,-0.02],[-0.92,-0.05]],
  [[0.05,0.9],[0.03,0.5],[-0.05,0.15],[-0.25,-0.1],[-0.55,-0.22],[-0.85,-0.3]],
  [[0.2,0.9],[0.2,0.45],[0.12,0.05],[-0.05,-0.25],[-0.35,-0.45],[-0.65,-0.6],[-0.8,-0.65]],
  [[0.38,0.9],[0.38,0.4],[0.3,-0.05],[0.12,-0.4],[-0.15,-0.65],[-0.4,-0.85]],
  [[0.55,0.83],[0.56,0.35],[0.5,-0.1],[0.35,-0.5],[0.15,-0.8],[0.05,-0.88]],
  [[0.72,0.62],[0.75,0.2],[0.7,-0.2],[0.6,-0.55],[0.45,-0.85]]
];
const contours3 = [
  [[-0.85,0.52],[-0.52,0.25],[-0.1,0.09],[0.14,0.28],[0.18,0.82],[0.2,0.9]],
  [[-0.92,0.25],[-0.4,-0.1],[0.02,-0.15],[0.32,0.1],[0.43,0.64],[0.46,0.9]],
  [[-0.92,-0.18],[-0.4,-0.31],[0.2,-0.25],[0.61,-0.01],[0.79,0.46],[0.84,0.7]],
  [[-0.79,-0.52],[-0.1,-0.46],[0.49,-0.34],[0.88,-0.16]],
  [[-0.64,-0.7],[0.08,-0.64],[0.67,-0.52],[0.88,-0.46]],
  [[-0.16,-0.89],[0.38,-0.78],[0.88,-0.64]]
];

const mapFill1 = ["#bdb36c", "#a3bb76", "#7cc282"];
const mapFill2 = ["#c8b162", "#9bbb7c", "#5fbf98"];
const mapFill3 = ["#d2b15a", "#b2b86c", "#72bf8e"];

const cbMax = [175, 6.5, 1.625];
const cbInterval = [25, 0.5, 0.125];
const cbTicks1 = [-150, -100, -50, 0, 50, 100, 150];
const cbTicks2 = [-6, -4, -2, 0, 2, 4, 6];
const cbTicks3 = [-1.5, -1, -0.5, 0, 0.5, 1, 1.5];
const parula = ["#f9fb0e", "#f5e51d", "#fcce2e", "#e1b952", "#a5be6b", "#59bd8c", "#15b1b4", "#079ccf", "#127dd8", "#0f5cdd", "#352a87"];

// ---------- Layout ----------
const colLeft = [76, 422, 769];
const colWidth = [257, 258, 258];
const rowTop = [33, 250, 466];
const rowHeight = [148, 146, 146];
const mapCenter = [[1119, 107, 57], [1119, 320, 56], [1119, 536, 56]];
const cbBox = [[1189, 51, 17, 112], [1189, 263, 17, 113], [1189, 479, 17, 114]];

function fmtMinus(v, step) {
  const q = v / step;
  if (Math.abs(q - Math.round(q)) > 1e-6) return "";
  const r = Math.round(v * 1000) / 1000;
  return r < 0 ? "\u2212" + Math.abs(r) : String(r);
}

function buildOption() {
  const grid = [];
  const xAxis = [];
  const yAxis = [];
  const series = [];
  const legend = [];
  const graphic = [];

  const rowCfg = [
    { min: -150, max: 250, interval: 50, label: 100, ticks: yTickTop, step: STEP_TOP },
    { min: -7.5, max: 7.5, interval: 2.5, label: 5, ticks: yTickSigma, step: STEP_OSC },
    { min: -1.5, max: 1.5, interval: 0.5, label: 1, ticks: yTickKappa, step: STEP_OSC },
  ];
  const dataSets = [
    [[topX1, topX3, topX5], [topY1, topY3, topY5], [topZ1, topZ2, topZ3, topZ4, topZ5, topZ6, topZ7, topS7]],
    [[sigX1, sigX3, sigX5], [sigY1, sigY3, sigY5], [sigZ1, sigZ2, sigZ3, sigZ4, sigZ5, sigZ6, sigZ7, sigS7]],
    [[kapX1, kapX3, kapX5], [kapY1, kapY3, kapY5], [kapZ1, kapZ2, kapZ3, kapZ4, kapZ5, kapZ6, kapZ7, kapS7]],
  ];
  const colNames = [namesX, namesY, namesZ];
  const colColors = [colXY, colXY, colZ];

  for (let r = 0; r < 3; r++) {
    for (let c = 0; c < 3; c++) {
      const gi = r * 3 + c;
      const cfg = rowCfg[r];
      grid.push({ left: colLeft[c], top: rowTop[r], width: colWidth[c], height: rowHeight[r], show: true, borderColor: "#000", borderWidth: 1, backgroundColor: "#fff" });
      xAxis.push({
        gridIndex: gi, type: "value", min: 10, max: 35, interval: 5,
        axisLine: { show: true, onZero: false, lineStyle: { color: "#000", width: 1 } },
        axisTick: { show: true, inside: true, length: 4, lineStyle: { color: "#000" } },
        axisLabel: { fontSize: 17, color: "#000", fontFamily: FONT, margin: 5 },
        splitLine: { show: true, lineStyle: { color: "#888", type: "dotted", width: 1 } },
      });
      yAxis.push({
        gridIndex: gi, type: "value", min: cfg.min, max: cfg.max, interval: cfg.interval,
        axisLine: { show: true, onZero: false, lineStyle: { color: "#000", width: 1 } },
        axisTick: { show: false },
        axisLabel: { fontSize: 17, color: "#000", fontFamily: FONT, margin: 5, formatter: (v) => fmtMinus(v, cfg.label) },
        splitLine: { show: false },
      });
      series.push({
        type: "line", xAxisIndex: gi, yAxisIndex: gi, data: [[10, 0]], symbol: "none", silent: true, z: 1,
        lineStyle: { width: 0, opacity: 0 },
        markLine: {
          silent: true, symbol: ["none", "none"], label: { show: false }, animation: false,
          lineStyle: { color: "#888", type: "dotted", width: 1 },
          data: cfg.ticks.map((v) => ({ yAxis: v })),
        },
      });
      const vals = dataSets[r][c];
      const names = colNames[c];
      const cols = colColors[c];
      for (let k = 0; k < vals.length; k++) {
        series.push({
          type: "line", name: names[k], xAxisIndex: gi, yAxisIndex: gi,
          data: vals[k].map((v, i) => [T0 + i * cfg.step, v]),
          symbol: "none", showSymbol: false, silent: true, z: 2,
          lineStyle: { color: cols[k], width: 1 }, itemStyle: { color: cols[k] },
        });
      }
      if (c === 2) {
        series.push({
          type: "line", xAxisIndex: gi, yAxisIndex: gi, data: [[10, 0]], symbol: "none", silent: true, z: 4,
          lineStyle: { width: 0, opacity: 0 },
          markLine: {
            silent: true, symbol: ["none", "none"], label: { show: false }, animation: false,
            lineStyle: { color: "#000", type: "solid", width: 1 },
            data: [{ xAxis: MARK_T }],
          },
        });
      }
      const cx = colLeft[c] + colWidth[c] / 2;
      graphic.push({ type: "text", x: cx, y: rowTop[r] - 20, silent: true, style: { text: rowTitles[r], fontSize: 16, fontFamily: FONT, fill: "#000", align: "center", verticalAlign: "middle" } });
      graphic.push({ type: "text", x: colLeft[c] - 59, y: rowTop[r] + rowHeight[r] / 2, rotation: Math.PI / 2, silent: true, style: { text: "Field (fT)", fontSize: 17, fontFamily: FONT, fill: "#000", align: "center", verticalAlign: "middle" } });
      if (r === 2) {
        graphic.push({ type: "text", x: cx, y: 643, silent: true, style: { text: "Time (ms)", fontSize: 17, fontFamily: FONT, fill: "#000", align: "center", verticalAlign: "middle" } });
      }
    }
  }

  const legRight = [1238 - 333, 1238 - 678, 1238 - 1022];
  for (let c = 0; c < 3; c++) {
    legend.push({
      orient: "vertical", right: legRight[c], top: 38, data: colNames[c], icon: "rect",
      itemWidth: 30, itemHeight: 1.5, itemGap: 3, selectedMode: false,
      textStyle: { fontSize: 12, fontFamily: FONT, color: "#000", lineHeight: 12 },
      backgroundColor: "#fff", borderColor: "#000", borderWidth: 1, borderRadius: 0,
      padding: [5, 5, 5, 6], z: 10,
    });
  }

  const contourSets = [contours1, contours2, contours3];
  const fills = [mapFill1, mapFill2, mapFill3];
  const gradDir = [[0, 0, 1, 1], [0, 0, 1, 1], [0.25, 0, 0.75, 1]];
  const clipBox = [[-0.92, 0.86, -0.89, 0.88], [-0.93, 0.88, -0.9, 0.92], [-0.93, 0.88, -0.91, 0.9]];
  const cbTicks = [cbTicks1, cbTicks2, cbTicks3];
  const fTy = [40, 251, 466];

  // map grids: 9, 10, 11 ; colorbar grids: 12, 13, 14
  for (let m = 0; m < 3; m++) {
    const [mcx, mcy, mr] = mapCenter[m];
    const half = mr * MAP_RANGE;
    grid.push({ left: mcx - half, top: mcy - half, width: 2 * half, height: 2 * half, show: false });
    xAxis.push({ gridIndex: 9 + m, type: "value", min: -MAP_RANGE, max: MAP_RANGE, show: false });
    yAxis.push({ gridIndex: 9 + m, type: "value", min: -MAP_RANGE, max: MAP_RANGE, show: false });
  }
  for (let m = 0; m < 3; m++) {
    const [bl, bt, bw, bh] = cbBox[m];
    const mx = cbMax[m];
    const tk = cbTicks[m];
    grid.push({ left: bl, top: bt, width: bw, height: bh, show: false });
    xAxis.push({ gridIndex: 12 + m, type: "value", min: 0, max: 1, show: false });
    yAxis.push({
      gridIndex: 12 + m, type: "value", position: "right", min: -mx, max: mx, interval: cbInterval[m],
      axisLine: { show: false }, axisTick: { show: false }, splitLine: { show: false },
      axisLabel: {
        fontSize: 13, color: "#000", fontFamily: FONT, margin: 3, showMinLabel: true, showMaxLabel: true,
        formatter: (v) => { const t = tk.find((q) => Math.abs(q - v) < 1e-6); return t === undefined ? "" : String(t); },
      },
    });
  }

  for (let m = 0; m < 3; m++) {
    const gi = 9 + m;
    const fc = fills[m];
    const gd = gradDir[m];
    const cb = clipBox[m];
    series.push({
      type: "custom", xAxisIndex: gi, yAxisIndex: gi, data: [[0, 0]], silent: true, z: 1,
      renderItem: (params, api) => {
        const ctr = api.coord([0, 0]);
        const rad = api.size([1, 1])[0];
        const pts = [];
        for (let k = 0; k <= 240; k++) {
          const a = (k / 240) * Math.PI * 2;
          let x = Math.cos(a) * 0.985;
          let y = Math.sin(a) * 0.985;
          x = Math.max(cb[0], Math.min(cb[1], x));
          y = Math.max(cb[2], Math.min(cb[3], y));
          pts.push([ctr[0] + x * rad, ctr[1] - y * rad]);
        }
        return {
          type: "group",
          children: [
            { type: "polygon", shape: { points: pts }, style: { fill: new echarts.graphic.LinearGradient(gd[0], gd[1], gd[2], gd[3], [{ offset: 0, color: fc[0] }, { offset: 0.5, color: fc[1] }, { offset: 1, color: fc[2] }]) } },
            { type: "circle", shape: { cx: ctr[0], cy: ctr[1], r: rad }, style: { fill: "none", stroke: "#000", lineWidth: 2.5 } },
          ],
        };
      },
    });
    contourSets[m].forEach((pts) => {
      series.push({
        type: "line", xAxisIndex: gi, yAxisIndex: gi, data: pts, smooth: 0.5, symbol: "none", silent: true, z: 2,
        lineStyle: { color: "#000", width: 1.2 },
      });
    });
    series.push({
      type: "scatter", xAxisIndex: gi, yAxisIndex: gi, silent: true, z: 3, symbolSize: 3, clip: false,
      itemStyle: { color: "#000" },
      data: sensorX.map((x, i) => [x, sensorY[i]]),
    });
    series.push({
      type: "scatter", xAxisIndex: gi, yAxisIndex: gi, silent: true, z: 4, symbol: "rect", symbolSize: [4, 15], clip: false,
      itemStyle: { color: "#ff0000" }, data: crossX.map((x, i) => [x, crossY[i]]),
    });
    series.push({
      type: "scatter", xAxisIndex: gi, yAxisIndex: gi, silent: true, z: 5, symbol: "rect", symbolSize: [15, 4], clip: false,
      itemStyle: { color: "#0000ff" }, data: crossX.map((x, i) => [x, crossY[i]]),
    });
    const lab = [];
    sensorNames.forEach((n, i) => lab.push({ value: [sensorLabelX[i], sensorLabelY[i]], name: n, label: { color: "#000" } }));
    namesX.forEach((n, i) => lab.push({ value: [xLabelX[i], xLabelY[i]], name: n, label: { color: "#ff0000" } }));
    namesY.forEach((n, i) => lab.push({ value: [yLabelX[i], yLabelY[i]], name: n, label: { color: "#0000ff" } }));
    series.push({
      type: "scatter", xAxisIndex: gi, yAxisIndex: gi, silent: true, z: 6, symbolSize: 1, clip: false,
      itemStyle: { color: "rgba(0,0,0,0)" }, data: lab,
      label: { show: true, position: "inside", formatter: (p) => p.name, fontSize: 14, fontFamily: FONT },
    });

    const ci = 12 + m;
    const mx = cbMax[m];
    const tk = cbTicks[m];
    series.push({
      type: "custom", xAxisIndex: ci, yAxisIndex: ci, data: [[0, 0]], silent: true, z: 2,
      renderItem: (params, api) => {
        const p0 = api.coord([0, mx]);
        const p1 = api.coord([1, -mx]);
        const children = [
          { type: "rect", shape: { x: p0[0], y: p0[1], width: p1[0] - p0[0], height: p1[1] - p0[1] }, style: { fill: new echarts.graphic.LinearGradient(0, 0, 0, 1, parula.map((c, i) => ({ offset: i / (parula.length - 1), color: c }))), stroke: "#000", lineWidth: 1 } },
        ];
        tk.forEach((t) => {
          const py = api.coord([0, t])[1];
          children.push({ type: "line", shape: { x1: p0[0], y1: py, x2: p0[0] + 3, y2: py }, style: { stroke: "#000", lineWidth: 1 } });
          children.push({ type: "line", shape: { x1: p1[0] - 3, y1: py, x2: p1[0], y2: py }, style: { stroke: "#000", lineWidth: 1 } });
        });
        return { type: "group", children };
      },
    });
    graphic.push({ type: "text", x: 1220, y: fTy[m], silent: true, style: { text: "(fT)", fontSize: 14, fontFamily: FONT, fill: "#000", align: "center", verticalAlign: "middle" } });
  }

  return { animation: false, backgroundColor: "#fff", grid, xAxis, yAxis, series, legend, graphic };
}

export default function App() {
  const ref = useRef(null);
  useEffect(() => {
    const chart = echarts.init(ref.current, null, { renderer: "svg" });
    chart.setOption(buildOption());
    return () => chart.dispose();
  }, []);
  return <div ref={ref} style={{ position: "fixed", left: 0, top: 0, width: 1238, height: 660, background: "#fff" }} />;
}
